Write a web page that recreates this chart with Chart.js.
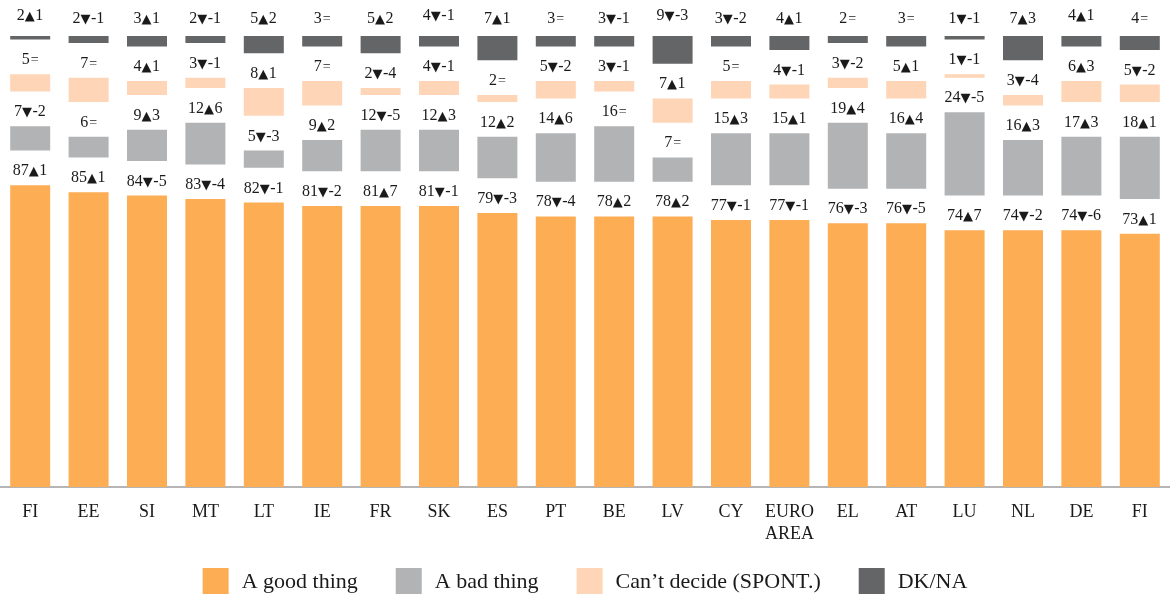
<!DOCTYPE html>
<html>
<head>
<meta charset="utf-8">
<script src="https://cdn.jsdelivr.net/npm/chart.js@4.4.1/dist/chart.umd.min.js"></script>
<style>
  html, body { margin: 0; padding: 0; background: #fff; }
  #wrap { width: 1170px; height: 598px; position: relative; }
</style>
</head>
<body>
<div id="wrap"><canvas id="chart"></canvas></div>
<script>
"use strict";

// Data
const countries = ["FI", "EE", "SI", "MT", "LT", "IE", "FR", "SK", "ES", "PT", "BE", "LV", "CY", ["EURO", "AREA"], "EL", "AT", "LU", "NL", "DE", "FI"];

const goodThing   = [87, 85, 84, 83, 82, 81, 81, 81, 79, 78, 78, 78, 77, 77, 76, 76, 74, 74, 74, 73];
const goodChange  = [1, 1, -5, -4, -1, -2, 7, -1, -3, -4, 2, 2, -1, -1, -3, -5, 7, -2, -6, 1];

const badThing    = [7, 6, 9, 12, 5, 9, 12, 12, 12, 14, 16, 7, 15, 15, 19, 16, 24, 16, 17, 18];
const badChange   = [-2, 0, 3, 6, -3, 2, -5, 3, 2, 6, 0, 0, 3, 1, 4, 4, -5, 3, 3, 1];

const cantDecide  = [5, 7, 4, 3, 8, 7, 2, 4, 2, 5, 3, 7, 5, 4, 3, 5, 1, 3, 6, 5];
const cantChange  = [0, 0, 1, -1, 1, 0, -4, -1, 0, -2, -1, 1, 0, -1, -2, 1, -1, -4, 3, -2];

const dkNa        = [2, 2, 3, 2, 5, 3, 5, 4, 7, 3, 3, 9, 3, 4, 2, 3, 1, 7, 4, 4];
const dkChange    = [1, -1, 1, -1, 2, 0, 2, -1, 1, 0, -1, -3, -2, 1, 0, 0, -1, 3, 1, 0];

const seriesNames = ["A good thing", "A bad thing", "Can\u2019t decide (SPONT.)", "DK/NA"];
const seriesColors = ["#FDAD54", "#B2B3B5", "#FED5B6", "#646567"];

// white spacer between stacked segments (in % units)
const GAP = 10;
const gapRow = countries.map(() => GAP);

const FONT = "'Liberation Serif', 'DejaVu Serif', serif";

function makeSeries(i, data, change) {
    return {
        label: seriesNames[i],
        data: data,
        change: change,
        backgroundColor: seriesColors[i],
        isSeries: true,
        labelOffset: i === 3 ? 13 : 10
    };
}

function makeGap() {
    return { label: "", data: gapRow, backgroundColor: "rgba(0,0,0,0)", isSeries: false };
}

// Labels "87▲1" above each segment
const segmentLabels = {
    id: "segmentLabels",
    afterDatasetsDraw(chart) {
        const c = chart.ctx;
        c.save();
        c.fillStyle = "#1a1a1a";
        c.textBaseline = "alphabetic";
        chart.data.datasets.forEach((ds, di) => {
            if (!ds.isSeries) return;
            const meta = chart.getDatasetMeta(di);
            meta.data.forEach((bar, j) => {
                const v = String(ds.data[j]);
                const ch = ds.change[j];
                let arrow, rest;
                if (ch === 0) { arrow = ""; rest = "="; }
                else if (ch > 0) { arrow = "\u25B2"; rest = String(ch); }
                else { arrow = "\u25BC"; rest = String(ch); }

                const big = "16px " + FONT;
                const small = "13px 'DejaVu Sans', sans-serif";
                const eqFont = "14px " + FONT;
                c.font = big;
                const wv = c.measureText(v).width;
                c.font = small;
                const wa = arrow ? c.measureText(arrow).width : 0;
                c.font = ch === 0 ? eqFont : big;
                const wr = c.measureText(rest).width;
                const total = wv + wa + wr + 1;
                let x = bar.x - total / 2;
                const y = bar.y - ds.labelOffset;

                c.textAlign = "left";
                c.font = big;
                c.fillText(v, x, y);
                x += wv + (arrow ? 0 : 1);
                if (arrow) {
                    c.font = small;
                    c.fillText(arrow, x, y);
                    x += wa + 0.5;
                }
                c.font = ch === 0 ? eqFont : big;
                c.fillText(rest, x, y);
            });
        });
        c.restore();
    }
};

// Legend drawn at the bottom, centred
const bottomLegend = {
    id: "bottomLegend",
    afterDraw(chart) {
        const c = chart.ctx;
        const items = chart.data.datasets.filter(ds => ds.isSeries);
        const box = 26, textGap = 13, itemGap = 38;
        c.save();
        c.font = "22px " + FONT;
        const widths = items.map(ds => c.measureText(ds.label).width);
        let total = 0;
        widths.forEach((w, i) => { total += box + textGap + w + (i < widths.length - 1 ? itemGap : 0); });
        let x = (chart.width - total) / 2;
        const cy = 581;
        items.forEach((ds, i) => {
            c.fillStyle = ds.backgroundColor;
            c.fillRect(x, cy - box / 2, box, box);
            c.fillStyle = "#1a1a1a";
            c.textBaseline = "middle";
            c.textAlign = "left";
            c.fillText(ds.label, x + box + textGap, cy + 1);
            x += box + textGap + widths[i] + itemGap;
        });
        c.restore();
    }
};

const ctx = document.getElementById("chart").getContext("2d");

new Chart(ctx, {
    type: "bar",
    data: {
        labels: countries,
        datasets: [
            makeSeries(0, goodThing, goodChange),
            makeGap(),
            makeSeries(1, badThing, badChange),
            makeGap(),
            makeSeries(2, cantDecide, cantChange),
            makeGap(),
            makeSeries(3, dkNa, dkChange)
        ]
    },
    options: {
        responsive: true,
        maintainAspectRatio: false,
        animation: false,
        layout: { padding: { top: 36, left: 1, right: 1, bottom: 47 } },
        datasets: {
            bar: { barPercentage: 0.685, categoryPercentage: 1.0, borderWidth: 0 }
        },
        scales: {
            x: {
                stacked: true,
                grid: { display: false },
                border: { display: true, color: "#B5B5B5", width: 2 },
                ticks: {
                    color: "#1a1a1a",
                    font: { family: FONT, size: 18, lineHeight: 1.22 },
                    padding: 6,
                    maxRotation: 0,
                    autoSkip: false
                }
            },
            y: {
                stacked: true,
                display: false,
                min: 0,
                max: 100 + 3 * GAP
            }
        },
        plugins: {
            legend: { display: false },
            tooltip: { enabled: false }
        }
    },
    plugins: [segmentLabels, bottomLegend]
});
</script>
</body>
</html>
